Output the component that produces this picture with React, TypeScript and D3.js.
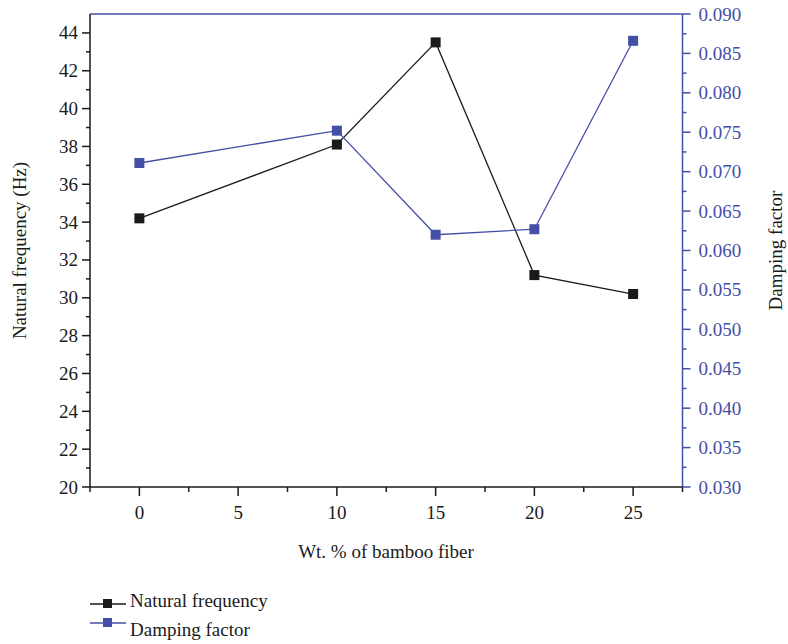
import React from "react";
import * as d3 from "d3";

const fiber = [0, 10, 15, 20, 25];
const naturalFreq = [34.2, 38.1, 43.5, 31.2, 30.2];
const damping = [0.0711, 0.0752, 0.062, 0.0627, 0.0866];
const xTicks = [0, 5, 10, 15, 20, 25];
const leftTicks = [20, 22, 24, 26, 28, 30, 32, 34, 36, 38, 40, 42, 44];
const rightTicks = [0.03, 0.035, 0.04, 0.045, 0.05, 0.055, 0.06, 0.065, 0.07, 0.075, 0.08, 0.085, 0.09];

const BLUE = "#444fa6";
const BLACK = "#1a1a1a";
const FONT = "'Liberation Serif', 'DejaVu Serif', serif";
const FS = 19;

const App = () => {
  const left = 90, right = 682.5, top = 14, bottom = 487;
  const x = d3.scaleLinear().domain([-2.5, 27.5]).range([left, right]);
  const yL = d3.scaleLinear().domain([20, 45]).range([bottom, top]);
  const yR = d3.scaleLinear().domain([0.03, 0.09]).range([bottom, top]);

  const lineL = d3.line<number>().x((_, i) => x(fiber[i])).y((d) => yL(d));
  const lineR = d3.line<number>().x((_, i) => x(fiber[i])).y((d) => yR(d));

  const xMinor = d3.range(-2.5, 27.6, 2.5).filter((v) => v % 5 !== 0);
  const lMinor = d3.range(21, 45, 2);
  const rMinor = d3.range(0.0325, 0.09, 0.005);
  const sq = 10;

  return (
    <svg width={788} height={644} style={{ position: "absolute", left: 0, top: 0 }}>
      <rect width={788} height={644} fill="#fff" />
      {/* frame */}
      <line x1={left} x2={right} y1={top} y2={top} stroke={BLUE} strokeWidth={1.5} />
      <line x1={right} x2={right} y1={top} y2={bottom} stroke={BLUE} strokeWidth={1.5} />
      <line x1={left} x2={left} y1={top} y2={bottom} stroke={BLACK} strokeWidth={1.5} />
      <line x1={left} x2={right} y1={bottom} y2={bottom} stroke={BLACK} strokeWidth={1.5} />

      {/* bottom axis */}
      {xTicks.map((t) => (
        <g key={"x" + t}>
          <line x1={x(t)} x2={x(t)} y1={bottom} y2={bottom + 9} stroke={BLACK} strokeWidth={1.5} />
          <text x={x(t)} y={bottom + 32} textAnchor="middle" fontFamily={FONT} fontSize={FS} fill={BLACK}>{t}</text>
        </g>
      ))}
      {xMinor.map((t) => (
        <line key={"xm" + t} x1={x(t)} x2={x(t)} y1={bottom} y2={bottom + 5} stroke={BLACK} strokeWidth={1.5} />
      ))}

      {/* left axis */}
      {leftTicks.map((t) => (
        <g key={"l" + t}>
          <line x1={left - 8} x2={left} y1={yL(t)} y2={yL(t)} stroke={BLACK} strokeWidth={1.5} />
          <text x={left - 12} y={yL(t) + 6.5} textAnchor="end" fontFamily={FONT} fontSize={FS} fill={BLACK}>{t}</text>
        </g>
      ))}
      {lMinor.map((t) => (
        <line key={"lm" + t} x1={left - 4} x2={left} y1={yL(t)} y2={yL(t)} stroke={BLACK} strokeWidth={1.5} />
      ))}

      {/* right axis */}
      {rightTicks.map((t) => (
        <g key={"r" + t}>
          <line x1={right} x2={right + 8} y1={yR(t)} y2={yR(t)} stroke={BLUE} strokeWidth={1.5} />
          <text x={right + 16} y={yR(t) + 6.5} textAnchor="start" fontFamily={FONT} fontSize={FS} fill={BLUE}>{t.toFixed(3)}</text>
        </g>
      ))}
      {rMinor.map((t) => (
        <line key={"rm" + t} x1={right} x2={right + 4} y1={yR(t)} y2={yR(t)} stroke={BLUE} strokeWidth={1.5} />
      ))}

      {/* axis titles */}
      <text transform={`translate(26,${(top + bottom) / 2}) rotate(-90)`} textAnchor="middle" fontFamily={FONT} fontSize={FS} fill={BLACK}>Natural frequency (Hz)</text>
      <text transform={`translate(782,${(top + bottom) / 2}) rotate(-90)`} textAnchor="middle" fontFamily={FONT} fontSize={FS} fill={BLACK}>Damping factor</text>
      <text x={386} y={558} textAnchor="middle" fontFamily={FONT} fontSize={FS} fill={BLACK}>Wt. % of bamboo fiber</text>

      {/* series */}
      <path d={lineL(naturalFreq) ?? ""} fill="none" stroke={BLACK} strokeWidth={1.3} />
      <path d={lineR(damping) ?? ""} fill="none" stroke={BLUE} strokeWidth={1.3} />
      {naturalFreq.map((v, i) => (
        <rect key={"nf" + i} x={x(fiber[i]) - sq / 2} y={yL(v) - sq / 2} width={sq} height={sq} fill={BLACK} />
      ))}
      {damping.map((v, i) => (
        <rect key={"df" + i} x={x(fiber[i]) - sq / 2} y={yR(v) - sq / 2} width={sq} height={sq} fill={BLUE} />
      ))}

      {/* legend */}
      <g>
        <line x1={90} x2={126} y1={604} y2={604} stroke={BLACK} strokeWidth={1.3} />
        <rect x={103} y={599} width={9} height={9} fill={BLACK} />
        <text x={130} y={607} fontFamily={FONT} fontSize={FS} fill={BLACK}>Natural frequency</text>
        <line x1={90} x2={126} y1={623} y2={623} stroke={BLUE} strokeWidth={1.3} />
        <rect x={103} y={618} width={9} height={9} fill={BLUE} />
        <text x={130} y={636} fontFamily={FONT} fontSize={FS} fill={BLACK}>Damping factor</text>
      </g>
    </svg>
  );
};

export default App;
